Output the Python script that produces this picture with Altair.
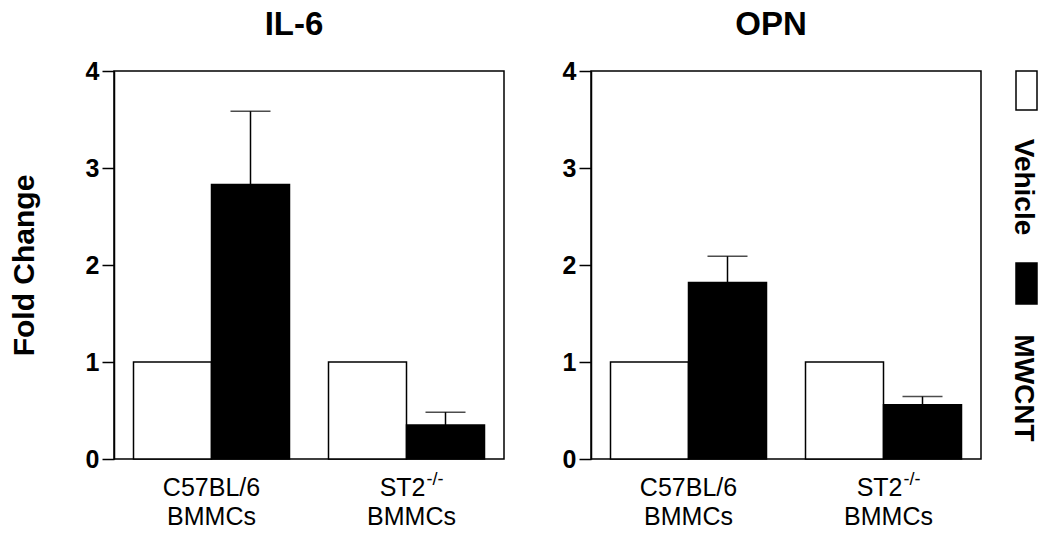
import altair as alt
import pandas as pd

FONT = "Liberation Sans"

# ---- data -------------------------------------------------------------
groups = ["C57BL/6", "ST2"]
group_sup = ["", "-/-"]
group_line2 = ["BMMCs", "BMMCs"]
series = ["Vehicle", "MWCNT"]
series_fill = ["white", "black"]

# order: (C57BL/6, Vehicle), (C57BL/6, MWCNT), (ST2, Vehicle), (ST2, MWCNT)
il6_mean = [1.0, 2.83, 1.0, 0.35]
il6_sem = [0.0, 0.755, 0.0, 0.133]
opn_mean = [1.0, 1.82, 1.0, 0.558]
opn_sem = [0.0, 0.27, 0.0, 0.086]
y_ticks = [0, 1, 2, 3, 4]

# ---- layout constants -------------------------------------------------
W, H = 390, 388


def make_df(means, sems):
    df = pd.DataFrame({
        "group": [g for g in groups for _ in series],
        "series": [s for _ in groups for s in series],
        "mean": means,
        "sem": sems,
    })
    df["upper"] = df["mean"] + df["sem"]
    return df


labels_df = pd.DataFrame({"group": groups, "line1": groups, "sup": group_sup, "line2": group_line2})

x_enc = alt.X("group:N", scale=alt.Scale(domain=groups, paddingInner=0.2, paddingOuter=0.1), axis=None)
xo_enc = alt.XOffset("series:N", scale=alt.Scale(domain=series, paddingInner=0, paddingOuter=0))
y_scale = alt.Scale(domain=[0, 4], nice=False, zero=True)
fill_scale = alt.Scale(domain=series, range=series_fill)


def panel(title, means, sems, left, legend=False):
    df = make_df(means, sems)
    axis_kw = dict(
        values=y_ticks, format="d", labelFont=FONT, labelFontSize=25, labelFontWeight="bold",
        labelColor="black", labelPadding=3, tickSize=12, tickWidth=1.5, tickColor="black",
        domainColor="black", domainWidth=1.5, grid=False,
    )
    if left:
        axis_kw.update(title="Fold Change", titleFont=FONT, titleFontSize=30, titleFontWeight="bold",
                       titleColor="black", titlePadding=46)
    else:
        axis_kw.update(title=None)
    y_axis = alt.Axis(**axis_kw)

    bars = alt.Chart(df).mark_bar(stroke="black", strokeWidth=1.5).encode(
        x=x_enc, xOffset=xo_enc,
        y=alt.Y("mean:Q", scale=y_scale, axis=y_axis),
        fill=alt.Fill("series:N", scale=fill_scale, legend=None),
    )
    err = alt.Chart(df).transform_filter("datum.sem > 0").mark_rule(color="black", strokeWidth=1.5).encode(
        x=x_enc, xOffset=xo_enc, y=alt.Y("mean:Q", scale=y_scale, axis=y_axis), y2="upper:Q"
    )
    cap = alt.Chart(df).transform_filter("datum.sem > 0").mark_tick(
        color="black", thickness=1.5, size=40, orient="horizontal"
    ).encode(x=x_enc, xOffset=xo_enc, y=alt.Y("upper:Q", scale=y_scale, axis=y_axis))

    txt = dict(font=FONT, fontSize=25, color="black", baseline="alphabetic")
    plain = alt.Chart(labels_df).transform_filter("datum.sup == ''")
    supd = alt.Chart(labels_df).transform_filter("datum.sup != ''")
    y1, y2 = H + 37, H + 66
    l1a = plain.mark_text(align="center", **txt).encode(x=x_enc, y=alt.value(y1), text="line1:N")
    l2a = plain.mark_text(align="center", **txt).encode(x=x_enc, y=alt.value(y2), text="line2:N")
    l1b = supd.mark_text(align="right", dx=19, **txt).encode(x=x_enc, y=alt.value(y1), text="line1:N")
    l1s = supd.mark_text(align="left", dx=20, dy=-11, font=FONT, fontSize=18, color="black",
                         baseline="alphabetic").encode(x=x_enc, y=alt.value(y1), text="sup:N")
    l2b = supd.mark_text(align="center", dx=5, **txt).encode(x=x_enc, y=alt.value(y2), text="line2:N")

    layers = [bars, err, cap, l1a, l2a, l1b, l1s, l2b]

    if legend:
        leg_box_y = {"Vehicle": (0, 39), "MWCNT": (192, 233)}
        leg_txt_y = {"Vehicle": 116, "MWCNT": 317}
        for s in series:
            ldf = pd.DataFrame({"series": [s]})
            b0, b1 = leg_box_y[s]
            box = alt.Chart(ldf).mark_rect(stroke="black", strokeWidth=1.5).encode(
                x=alt.value(W + 35), x2=alt.value(W + 56), y=alt.value(b0), y2=alt.value(b1),
                fill=alt.Fill("series:N", scale=fill_scale, legend=None),
            )
            lab = alt.Chart(ldf).mark_text(angle=90, font=FONT, fontSize=28, fontWeight="bold",
                                           color="black", align="center", baseline="middle").encode(
                x=alt.value(W + 42), y=alt.value(leg_txt_y[s]), text="series:N"
            )
            layers += [box, lab]

    return alt.layer(*layers).properties(
        width=W, height=H,
        title=alt.TitleParams(title, font=FONT, fontSize=33, fontWeight="bold", color="black",
                              anchor="middle", offset=17, dx=-15),
    )


p1 = panel("IL-6", il6_mean, il6_sem, left=True)
p2 = panel("OPN", opn_mean, opn_sem, left=False, legend=True)

chart = alt.hconcat(p1, p2, spacing=56).properties(padding=0).configure(
    background="white"
).configure_view(stroke="black", strokeWidth=1.5)

chart.save("out.html", embed_options={"renderer": "svg", "actions": False})
